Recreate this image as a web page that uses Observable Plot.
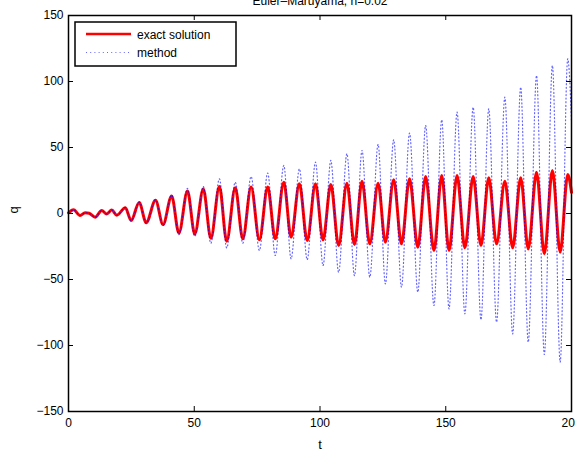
<!DOCTYPE html>
<html>
<head>
<meta charset="utf-8">
<script src="https://cdn.jsdelivr.net/npm/d3@7"></script>
<script src="https://cdn.jsdelivr.net/npm/@observablehq/plot@0.6"></script>
<style>
  html, body { margin: 0; padding: 0; background: white; }
  #wrap { position: relative; width: 575px; height: 453px; overflow: hidden; }
  #legend { position: absolute; left: 0; top: 0; }
  text { font-family: "Liberation Sans", Arial, Helvetica, sans-serif; }
</style>
</head>
<body>
<div id="wrap"></div>
<script>
// Extrema (peaks / troughs)
const exactT = [0, 2, 4.6, 6.6, 8.2, 10.6, 13.2, 15.2, 17.2, 19.2, 22.6, 24.9, 28.1, 30.9, 34.6, 37.6, 41.0, 43.9, 47.3, 50.2, 53.6, 56.6, 60, 62.9, 66.3, 69.3, 72.6, 75.9, 79.2, 82.2, 85.6, 88.5, 91.8, 94.9, 98.2, 101.2, 104.3, 107.4, 110.7, 113.7, 116.7, 119.8, 123.1, 126, 129.3, 132.4, 135.6, 138.9, 142, 145.3, 148.4, 151.3, 154.5, 157.6, 160.9, 164, 167.1, 170.2, 173.5, 176.6, 179.8, 182.8, 186.1, 189.2, 192.4, 195.5, 198.5, 200];
const exactQ = [0.5, 2.8, -1.5, 0.6, 0.2, -2.8, 2.3, -0.3, 2.6, -1.3, 4.4, -5.3, 8.4, -7, 10, -8.4, 13.3, -14.8, 17.1, -15.5, 18.5, -18.8, 20.5, -21, 19.6, -19.2, 20, -19.8, 20, -19.2, 23.7, -17.9, 22.5, -20.5, 22.5, -20, 22, -24.2, 23, -23.5, 24.5, -23, 23, -21.7, 25.5, -23, 26.3, -25.5, 28, -28, 28.8, -28, 28.8, -26, 28, -24.2, 27, -23, 24.5, -26, 27, -26.8, 31.3, -30.5, 32.6, -29.3, 29.5, 16];

const methodT = [0, 2, 4.6, 6.6, 8.2, 10.6, 13.2, 15.2, 17.2, 19.2, 22.6, 24.9, 28.1, 30.9, 34.6, 37.6, 41.0, 43.9, 47.3, 50.2, 53.6, 56.6, 60, 62.9, 66.3, 69.3, 72.6, 75.9, 79.2, 82.2, 85.6, 88.5, 91.8, 94.9, 98.2, 101.2, 104.3, 107.4, 110.7, 113.7, 116.7, 119.8, 123.1, 126, 129.3, 132.4, 135.6, 138.9, 142, 145.3, 148.4, 151.3, 154.5, 157.6, 160.9, 164, 167.1, 170.2, 173.5, 176.6, 179.8, 182.8, 186.1, 189.2, 192.4, 195.5, 198.5, 200];
const methodQ = [0.5, 2.8, -1.5, 0.6, 0.2, -2.8, 2.3, -0.3, 2.6, -1.3, 4.6, -5.5, 8.6, -7.2, 10.3, -9, 14, -16, 19, -17.4, 20.5, -22.5, 26.3, -26, 23.7, -22.5, 28, -28, 30.6, -31.8, 36.4, -34.3, 33.8, -35, 38.9, -39.4, 40.2, -44.5, 45.2, -47, 47.7, -48.2, 52.3, -53.3, 55.8, -55.8, 60.9, -59.6, 66.7, -69.7, 71, -72.2, 76.8, -76, 80.5, -80.5, 79.3, -82.3, 88.1, -91.2, 95.7, -97.5, 104.5, -106.8, 112.1, -112.6, 117.2, 70];

const xTicks = [0, 50, 100, 150, 200];
const yTicks = [-150, -100, -50, 0, 50, 100, 150];
const titleText = "Euler–Maruyama, h=0.02";
const legendLabels = ["exact solution", "method"];

const exact = exactT.map((t, i) => ({t, q: exactQ[i]}));
const method = methodT.map((t, i) => ({t, q: methodQ[i]}));

const W = 575, H = 453;
const mL = 68, mR = 4, mT = 15, mB = 42;
const pw = W - mL - mR, ph = H - mT - mB;
const font = '"Liberation Sans", Arial, Helvetica, sans-serif';

const chart = Plot.plot({
  width: W, height: H,
  marginLeft: mL, marginRight: mR, marginTop: mT, marginBottom: mB,
  style: {fontFamily: font, fontSize: "12px", color: "black", background: "white"},
  x: {domain: [0, 200]},
  y: {domain: [-150, 150]},
  marks: [
    Plot.line(exact, {x: "t", y: "q", stroke: "#ff0000", strokeWidth: 3, curve: "monotone-x"}),
    Plot.line(method, {x: "t", y: "q", stroke: "#0000ff", strokeWidth: 1.2, strokeOpacity: 0.6, strokeDasharray: "1,2.6", curve: "monotone-x"}),
    Plot.axisX(xTicks, {anchor: "bottom", tickSize: 0, tickPadding: 7, fontSize: 12, label: null}),
    Plot.axisY(yTicks, {anchor: "left", tickSize: 0, tickPadding: 5, fontSize: 12, label: null}),
    Plot.tickX(xTicks, {x: d => d, insetTop: ph - 5, stroke: "black", strokeWidth: 1}),
    Plot.tickX(xTicks, {x: d => d, insetBottom: ph - 5, stroke: "black", strokeWidth: 1}),
    Plot.tickY(yTicks, {y: d => d, insetRight: pw - 5, stroke: "black", strokeWidth: 1}),
    Plot.tickY(yTicks, {y: d => d, insetLeft: pw - 5, stroke: "black", strokeWidth: 1}),
    Plot.frame({stroke: "black", strokeWidth: 1.5}),
    Plot.text([titleText], {frameAnchor: "top", dy: -11, lineAnchor: "bottom", fontSize: 12, fill: "black"}),
    Plot.text(["t"], {frameAnchor: "bottom", dy: 33, lineAnchor: "middle", fontSize: 13, fill: "black"}),
    Plot.text(["q"], {frameAnchor: "left", dx: -55, rotate: -90, lineAnchor: "middle", fontSize: 13, fill: "black"})
  ]
});

const wrap = document.getElementById("wrap");
wrap.appendChild(chart);

// Legend overlay
const lg = d3.select(wrap).append("svg")
  .attr("id", "legend").attr("width", W).attr("height", H);
lg.append("rect").attr("x", 75).attr("y", 22).attr("width", 161).attr("height", 44)
  .attr("fill", "white").attr("stroke", "black").attr("stroke-width", 1.5);
lg.append("line").attr("x1", 86).attr("x2", 131).attr("y1", 34).attr("y2", 34)
  .attr("stroke", "#ff0000").attr("stroke-width", 2.5);
lg.append("line").attr("x1", 86).attr("x2", 131).attr("y1", 52.5).attr("y2", 52.5)
  .attr("stroke", "#0000ff").attr("stroke-opacity", 0.6).attr("stroke-width", 1.2).attr("stroke-dasharray", "1,3.2");
lg.append("text").attr("x", 137).attr("y", 38.5).attr("font-size", 12)
  .attr("font-family", font).text(legendLabels[0]);
lg.append("text").attr("x", 137).attr("y", 57).attr("font-size", 12)
  .attr("font-family", font).text(legendLabels[1]);
</script>
</body>
</html>
